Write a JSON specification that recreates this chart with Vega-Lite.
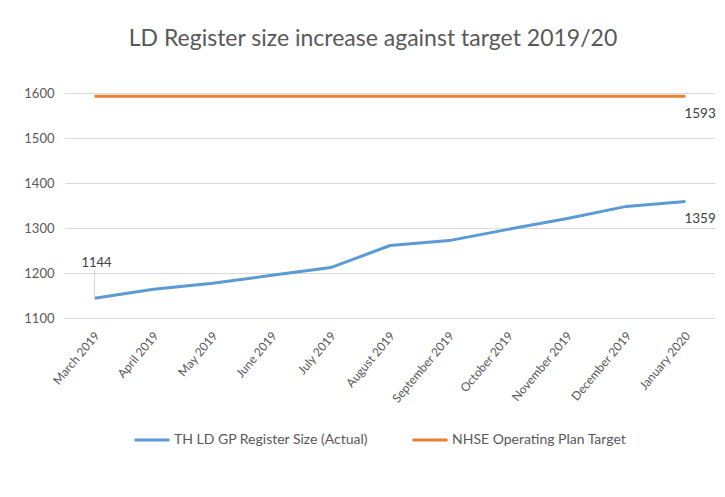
{
  "$schema": "https://vega.github.io/schema/vega-lite/v6.json",
  "width": 650,
  "height": 225,
  "autosize": "none",
  "padding": {"left": 65, "top": 93, "right": 10, "bottom": 179},
  "background": "white",
  "config": {
    "font": "Lato",
    "view": {"stroke": null}
  },
  "title": {
    "text": "LD Register size increase against target 2019/20",
    "font": "Lato",
    "fontSize": 23,
    "fontWeight": "normal",
    "color": "#595959",
    "anchor": "middle",
    "frame": "group",
    "dx": -17,
    "offset": 36
  },
  "data": {
    "values": [
      {"month": "March 2019", "series": "TH LD GP Register Size (Actual)", "value": 1144},
      {"month": "April 2019", "series": "TH LD GP Register Size (Actual)", "value": 1164},
      {"month": "May 2019", "series": "TH LD GP Register Size (Actual)", "value": 1177},
      {"month": "June 2019", "series": "TH LD GP Register Size (Actual)", "value": 1195},
      {"month": "July 2019", "series": "TH LD GP Register Size (Actual)", "value": 1212},
      {"month": "August 2019", "series": "TH LD GP Register Size (Actual)", "value": 1261},
      {"month": "September 2019", "series": "TH LD GP Register Size (Actual)", "value": 1272},
      {"month": "October 2019", "series": "TH LD GP Register Size (Actual)", "value": 1297},
      {"month": "November 2019", "series": "TH LD GP Register Size (Actual)", "value": 1321},
      {"month": "December 2019", "series": "TH LD GP Register Size (Actual)", "value": 1348},
      {"month": "January 2020", "series": "TH LD GP Register Size (Actual)", "value": 1359},
      {"month": "March 2019", "series": "NHSE Operating Plan Target", "value": 1593},
      {"month": "April 2019", "series": "NHSE Operating Plan Target", "value": 1593},
      {"month": "May 2019", "series": "NHSE Operating Plan Target", "value": 1593},
      {"month": "June 2019", "series": "NHSE Operating Plan Target", "value": 1593},
      {"month": "July 2019", "series": "NHSE Operating Plan Target", "value": 1593},
      {"month": "August 2019", "series": "NHSE Operating Plan Target", "value": 1593},
      {"month": "September 2019", "series": "NHSE Operating Plan Target", "value": 1593},
      {"month": "October 2019", "series": "NHSE Operating Plan Target", "value": 1593},
      {"month": "November 2019", "series": "NHSE Operating Plan Target", "value": 1593},
      {"month": "December 2019", "series": "NHSE Operating Plan Target", "value": 1593},
      {"month": "January 2020", "series": "NHSE Operating Plan Target", "value": 1593}
    ]
  },
  "encoding": {
    "x": {
      "field": "month",
      "type": "ordinal",
      "sort": ["March 2019", "April 2019", "May 2019", "June 2019", "July 2019", "August 2019", "September 2019", "October 2019", "November 2019", "December 2019", "January 2020"],
      "scale": {"type": "point", "padding": 0.5},
      "axis": {
        "title": null,
        "labelAngle": -50,
        "labelFontSize": 12,
        "labelColor": "#595959",
        "ticks": false,
        "domain": true,
        "domainColor": "#d9d9d9",
        "labelPadding": 15,
        "labelOffset": 2,
        "grid": false
      }
    },
    "y": {
      "field": "value",
      "type": "quantitative",
      "scale": {"domain": [1100, 1600], "nice": false, "zero": false},
      "axis": {
        "title": null,
        "values": [1100, 1200, 1300, 1400, 1500, 1600],
        "format": "d",
        "labelFontSize": 13,
        "labelColor": "#595959",
        "ticks": false,
        "domain": false,
        "gridColor": "#d9d9d9",
        "labelPadding": 11
      }
    }
  },
  "layer": [
    {
      "mark": {"type": "line", "strokeWidth": 3},
      "encoding": {
        "color": {
          "field": "series",
          "type": "nominal",
          "scale": {
            "domain": ["TH LD GP Register Size (Actual)", "NHSE Operating Plan Target"],
            "range": ["#5b9bd5", "#ed7d31"]
          },
          "legend": {
            "title": null,
            "orient": "none",
            "legendX": 68,
            "legendY": 328,
            "direction": "horizontal",
            "symbolType": "stroke",
            "symbolSize": 1225,
            "symbolStrokeWidth": 3,
            "labelFontSize": 14,
            "labelColor": "#595959",
            "labelOffset": 3,
            "labelLimit": 0,
            "columnPadding": 37
          }
        }
      }
    },
    {
      "transform": [{"filter": "datum.month === 'March 2019' && datum.series === 'TH LD GP Register Size (Actual)'"}],
      "mark": {"type": "rule", "color": "#e8d2b8", "strokeWidth": 1},
      "encoding": {"y2": {"datum": 1208}}
    },
    {
      "transform": [{"filter": "datum.month === 'March 2019' && datum.series === 'TH LD GP Register Size (Actual)'"}],
      "mark": {"type": "text", "fontSize": 13, "color": "#404040", "dy": -35, "dx": 2},
      "encoding": {"text": {"field": "value", "type": "quantitative"}}
    },
    {
      "transform": [{"filter": "datum.month === 'January 2020'"}],
      "mark": {"type": "text", "fontSize": 13.5, "color": "#404040", "align": "left", "dx": -1, "dy": 18},
      "encoding": {"text": {"field": "value", "type": "quantitative"}}
    }
  ]
}
